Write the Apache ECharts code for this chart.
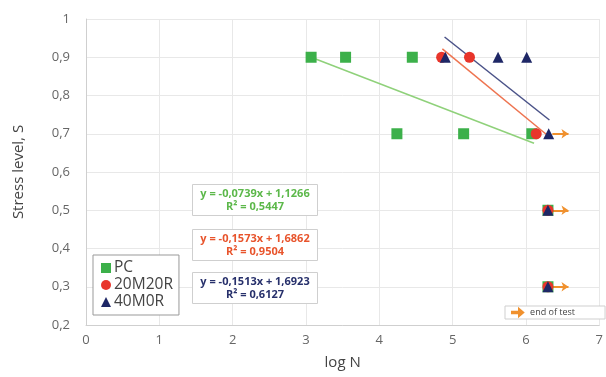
<!DOCTYPE html>
<html>
<head>
<meta charset="utf-8">
<script src="https://cdn.jsdelivr.net/npm/echarts@6/dist/echarts.min.js"></script>
<style>
  html, body { margin: 0; padding: 0; background: #fff; }
  #chart { width: 606px; height: 377px; }
</style>
</head>
<body>
<div id="chart"></div>
<script>
// points: [log N, S]
var pcData = [[3.07, 0.9], [3.54, 0.9], [4.45, 0.9], [4.24, 0.7], [5.15, 0.7], [6.08, 0.7], [6.3, 0.5], [6.3, 0.3]]
var m20r20Data = [[4.85, 0.9], [5.23, 0.9], [6.14, 0.7], [6.3, 0.5], [6.3, 0.3]]
var m40r0Data = [[4.9, 0.9], [5.62, 0.9], [6.01, 0.9], [6.31, 0.7], [6.3, 0.5], [6.3, 0.3]]

// trend line end points
var pcTrend = [[3.07, 0.9], [6.11, 0.675]]
var m20r20Trend = [[4.86, 0.922], [6.28, 0.698]]
var m40r0Trend = [[4.89, 0.953], [6.32, 0.736]]

// run-outs (end of test)
var runOuts = [[[6.36, 0.7], [6.58, 0.7]], [[6.36, 0.5], [6.58, 0.5]], [[6.36, 0.3], [6.58, 0.3]]]

var equations = [
  { text: 'y = -0,0739x + 1,1266\nR² = 0,5447', color: '#5cb84a', top: 184 },
  { text: 'y = -0,1573x + 1,6862\nR² = 0,9504', color: '#e8542c', top: 229 },
  { text: 'y = -0,1513x + 1,6923\nR² = 0,6127', color: '#27306b', top: 272 }
]

var font = 'Open Sans'
var comma = function (v) { return String(+v.toFixed(1)).replace('.', ',') }

var chart = echarts.init(document.getElementById('chart'))

var graphics = []
equations.forEach(function (e) {
  graphics.push({
    type: 'rect',
    left: 192, top: e.top,
    shape: { width: 125, height: 31 },
    style: { fill: '#fff', stroke: '#cfcfcf', lineWidth: 1 },
    z: 10
  })
  graphics.push({
    type: 'text',
    position: [255, e.top + 3],
    style: {
      text: e.text, fill: e.color, font: 'bold 11px "' + font + '"',
      align: 'center', lineHeight: 13
    },
    z: 11
  })
})

chart.setOption({
  animation: false,
  textStyle: { fontFamily: font },
  grid: { left: 86, right: 2, top: 19, bottom: 52 },
  xAxis: {
    type: 'value', min: 0, max: 7, interval: 1,
    name: 'log N', nameLocation: 'middle', nameGap: 30,
    nameTextStyle: { fontSize: 15, color: '#444' },
    axisLine: { show: true, lineStyle: { color: '#cfcfcf' } },
    axisTick: { show: false },
    axisLabel: { color: '#666', fontSize: 13, margin: 9 },
    splitLine: { lineStyle: { color: '#e8e8e8' } }
  },
  yAxis: {
    type: 'value', min: 0.2, max: 1, interval: 0.1,
    name: 'Stress level, S', nameLocation: 'middle', nameGap: 60,
    nameTextStyle: { fontSize: 15, color: '#444' },
    axisLine: { show: true, lineStyle: { color: '#cfcfcf' } },
    axisTick: { show: false },
    axisLabel: { color: '#666', fontSize: 13, margin: 16, formatter: comma },
    splitLine: { lineStyle: { color: '#e8e8e8' } }
  },
  legend: [{
    orient: 'vertical', left: 93, top: 255,
    data: [
      { name: 'PC', icon: 'rect' },
      { name: '20M20R', icon: 'circle' },
      { name: '40M0R', icon: 'triangle' }
    ],
    itemWidth: 10, itemHeight: 10, itemGap: 1,
    padding: [5, 6, 5, 8],
    borderColor: '#999', borderWidth: 1, backgroundColor: '#fff',
    textStyle: { fontSize: 15.5, color: '#444', lineHeight: 15, padding: [0, 0, 0, -2] }
  }, {
    left: 505, top: 306,
    data: [{ name: 'end of test', icon: 'path://M0,4 L10,4 L10,0 L16,5 L10,10 L10,6 L0,6 Z' }],
    itemWidth: 15, itemHeight: 7,
    padding: [2, 30, 2, 6],
    borderColor: '#cfcfcf', borderWidth: 1, backgroundColor: '#fff',
    textStyle: { fontSize: 9, color: '#444' }
  }],
  series: [
    {
      name: 'PC trend', type: 'line', data: pcTrend, symbol: 'none',
      lineStyle: { color: '#8fd17a', width: 1.5 }, z: 2
    },
    {
      name: '20M20R trend', type: 'line', data: m20r20Trend, symbol: 'none',
      lineStyle: { color: '#ee7450', width: 1.5 }, z: 2
    },
    {
      name: '40M0R trend', type: 'line', data: m40r0Trend, symbol: 'none',
      lineStyle: { color: '#4a5288', width: 1.5 }, z: 2
    },
    {
      name: 'end of test', type: 'lines', coordinateSystem: 'cartesian2d',
      data: runOuts.map(function (c) { return { coords: c } }),
      symbol: ['none', 'arrow'], symbolSize: 7,
      itemStyle: { color: '#f0912e' },
      lineStyle: { color: '#f0912e', width: 2, opacity: 1 }, z: 3
    },
    {
      name: 'PC', type: 'scatter', data: pcData, symbol: 'rect', symbolSize: 11,
      itemStyle: { color: '#3cb04a', opacity: 1 }, z: 4
    },
    {
      name: '20M20R', type: 'scatter', data: m20r20Data, symbol: 'circle', symbolSize: 11,
      itemStyle: { color: '#e8352b', opacity: 1 }, z: 5
    },
    {
      name: '40M0R', type: 'scatter', data: m40r0Data, symbol: 'triangle', symbolSize: 11,
      itemStyle: { color: '#1e2766', opacity: 1 }, z: 6
    }
  ],
  graphic: graphics
})
</script>
</body>
</html>
